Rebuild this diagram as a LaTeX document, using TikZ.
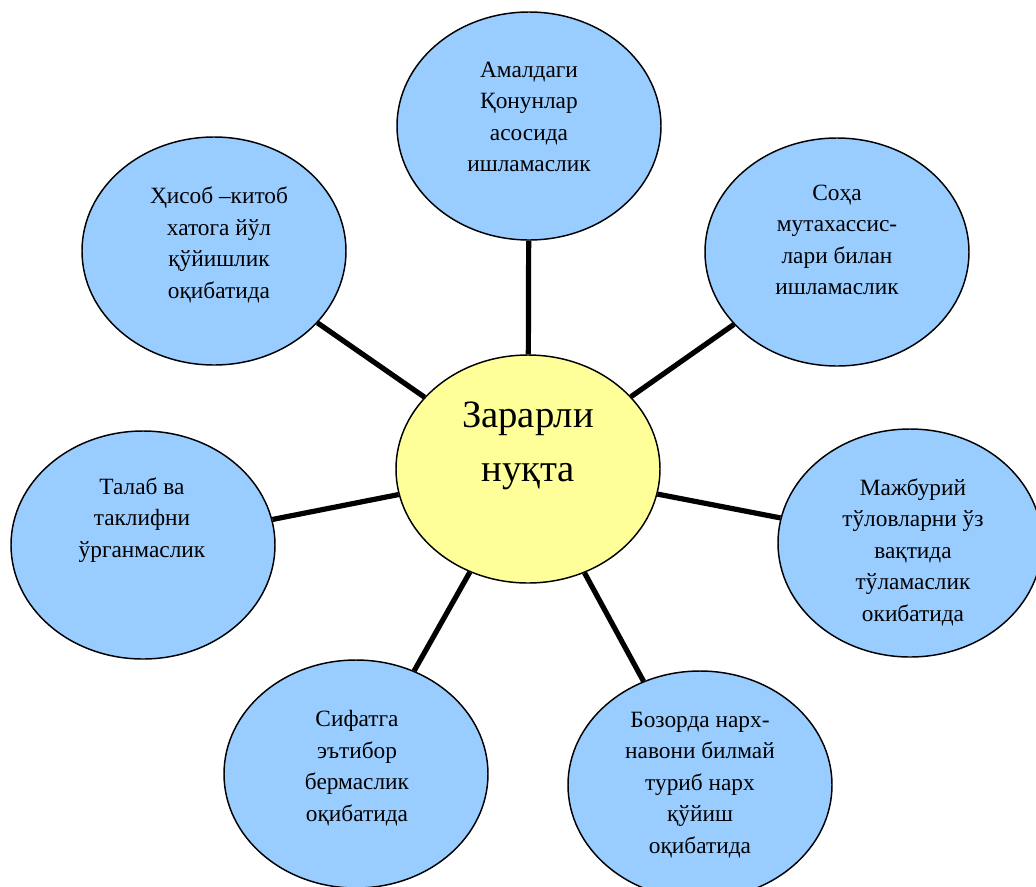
\documentclass[tikz,border=0pt]{standalone}
\usepackage{fontspec}
\setmainfont{Liberation Serif}
\usetikzlibrary{shapes.geometric}
\definecolor{bluefill}{HTML}{99CCFF}
\definecolor{yellowfill}{HTML}{FFFF99}
\tikzset{
  blob/.style={ellipse, draw=black, line width=1.1pt, minimum width=198pt, minimum height=171pt, inner sep=0pt},
  bluebox/.style={blob, fill=bluefill},
  hub/.style={blob, fill=yellowfill},
  lbl/.style={align=center, inner sep=0pt, font=\fontsize{17.5}{23.6}\selectfont},
  hublbl/.style={align=center, inner sep=0pt, font=\fontsize{29}{40}\selectfont},
  conn/.style={draw=black, line width=3.9pt}
}
\begin{document}
\begin{tikzpicture}[x=0.75pt,y=-0.75pt]
\useasboundingbox (0,0) rectangle (1036,886);
\clip (0,0) rectangle (1036,886);
% ellipses
\node[hub] (c) at (528,469) {};
\node[bluebox] (t) at (529,126) {};
\node[bluebox] (ur) at (837,252) {};
\node[bluebox] (ul) at (214,251) {};
\node[bluebox] (r) at (910,543) {};
\node[bluebox] (l) at (143,545) {};
\node[bluebox] (bl) at (356,774) {};
\node[bluebox] (br) at (700,785) {};
% connectors
\draw[conn] (c) -- (t);
\draw[conn] (c) -- (ur);
\draw[conn] (c) -- (ul);
\draw[conn] (c) -- (r);
\draw[conn] (c) -- (l);
\draw[conn] (c) -- (bl);
\draw[conn] (c) -- (br);
% labels
\node[hublbl] (cl) at (528,446) {Зарарли\\нуқта};
\node[lbl] (tl) at (529,117) {Амалдаги\\Қонунлар\\асосида\\ишламаслик};
\node[lbl] (url) at (837,240) {Соҳа\\мутахассис-\\лари билан\\ишламаслик};
\node[lbl] (ull) at (219,245) {Ҳисоб –китоб\\хатога йўл\\қўйишлик\\оқибатида};
\node[lbl] (rl) at (913,552) {Мажбурий\\тўловларни ўз\\вақтида\\тўламаслик\\окибатида};
\node[lbl] (ll) at (142,520) {Талаб ва\\таклифни\\ўрганмаслик};
\node[lbl] (bll) at (357,768) {Сифатга\\эътибор\\бермаслик\\оқибатида};
\node[lbl] (brl) at (700,785) {Бозорда нарх-\\навони билмай\\туриб нарх\\қўйиш\\оқибатида};
\end{tikzpicture}
\end{document}
